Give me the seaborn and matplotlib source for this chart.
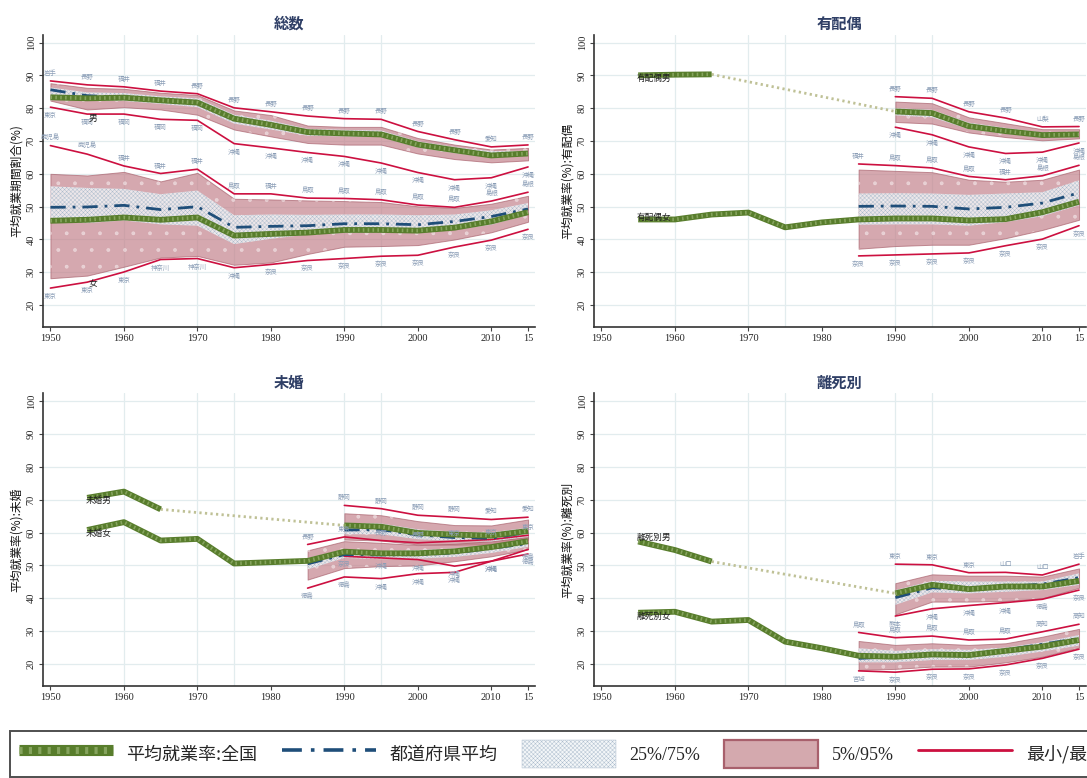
import matplotlib
matplotlib.use("Agg")
import matplotlib.pyplot as plt
from matplotlib.lines import Line2D
from matplotlib.patches import Patch
from matplotlib.legend_handler import HandlerTuple
import numpy as np
import pandas as pd
import seaborn as sns

# ---------------------------------------------------------------- data
YEARS = [1950, 1955, 1960, 1965, 1970, 1975, 1980, 1985, 1990, 1995, 2000, 2005, 2010, 2015]
N = None

# 総数
sosu_m = dict(
    nat=[83.3, 83.0, 83.2, 82.4, 81.7, 76.8, 74.9, 72.7, 72.3, 72.0, 68.9, 67.2, 65.6, 66.2],
    pref=[85.6, 83.8, 83.3, 82.5, 82.0, 76.9, 75.0, 72.8, 72.4, 72.1, 69.0, 67.2, 65.7, 66.3],
    max=[88.3, 87.1, 86.5, 85.2, 84.4, 80.1, 78.9, 77.6, 76.8, 76.6, 72.9, 70.4, 68.2, 68.8],
    p95=[87.6, 86.2, 85.9, 84.7, 84.0, 79.3, 77.9, 74.7, 74.3, 74.3, 70.9, 68.9, 67.4, 67.9],
    p75=[86.3, 84.8, 84.6, 83.6, 83.0, 78.0, 76.2, 73.7, 73.4, 73.2, 69.9, 68.2, 66.9, 67.0],
    p25=[83.8, 82.2, 82.2, 81.3, 80.3, 75.3, 73.5, 71.6, 71.4, 71.2, 68.0, 66.3, 65.0, 65.6],
    p5=[82.3, 79.6, 80.3, 79.6, 78.0, 73.5, 71.4, 69.4, 68.9, 68.9, 66.2, 64.5, 63.5, 64.1],
    min=[80.3, 78.2, 78.2, 76.6, 76.3, 69.2, 67.9, 66.5, 65.3, 63.3, 60.4, 58.2, 58.8, 62.1],
)
sosu_m_maxlab = ["岩手", "長野", "福井", "福井", "長野", "長野", "長野", "長野", "長野", "長野", "長野", "長野", "愛知", "長野"]
sosu_m_minlab = ["東京", "福岡", "福岡", "福岡", "福岡", "沖縄", "沖縄", "沖縄", "沖縄", "沖縄", "沖縄", "沖縄", "沖縄", "沖縄"]

sosu_f = dict(
    nat=[45.7, 46.0, 46.7, 46.0, 46.7, 41.2, 41.7, 42.1, 42.9, 42.9, 42.7, 43.6, 45.5, 48.3],
    pref=[49.8, 49.9, 50.4, 49.1, 50.0, 43.7, 44.0, 44.2, 44.8, 44.8, 44.5, 45.5, 47.0, 49.3],
    max=[68.6, 66.0, 62.4, 60.1, 61.4, 53.9, 53.9, 52.6, 52.5, 52.1, 50.5, 49.8, 51.7, 54.4],
    p95=[60.0, 59.5, 60.6, 57.7, 60.3, 52.4, 52.2, 51.9, 51.7, 51.4, 50.1, 49.6, 50.9, 53.3],
    p75=[56.2, 55.7, 55.4, 53.8, 54.9, 47.4, 47.6, 47.5, 47.6, 47.6, 47.4, 47.6, 48.9, 51.1],
    p25=[45.3, 45.0, 45.8, 44.6, 44.2, 38.6, 40.2, 41.5, 42.0, 42.2, 42.4, 42.9, 44.5, 47.6],
    p5=[28.2, 29.0, 31.7, 34.5, 35.0, 32.3, 33.0, 35.6, 37.8, 38.0, 38.3, 40.0, 42.2, 45.4],
    min=[25.2, 27.0, 30.1, 33.9, 34.2, 31.4, 32.4, 33.6, 34.2, 34.9, 35.2, 37.7, 39.8, 43.1],
)
sosu_f_maxlab = ["鹿児島", "鹿児島", "福井", "福井", "福井", "鳥取", "福井", "鳥取", "鳥取", "鳥取", "鳥取", "鳥取", "島根", "島根"]
sosu_f_minlab = ["東京", "東京", "東京", "神奈川", "神奈川", "沖縄", "奈良", "奈良", "奈良", "奈良", "奈良", "奈良", "奈良", "奈良"]

# 有配偶
yuhai_m = dict(
    nat=[N, 90.0, 90.2, 90.3, N, N, N, N, 79.0, 78.5, 74.5, 73.0, 71.8, 72.0],
    pref=[N, N, N, N, N, N, N, N, 78.8, 78.2, 74.3, 72.8, 71.6, 71.8],
    max=[N, N, N, N, N, N, N, N, 83.5, 83.0, 78.9, 77.0, 74.3, 74.4],
    p95=[N, N, N, N, N, N, N, N, 82.0, 81.5, 77.2, 75.4, 73.6, 73.6],
    p75=[N, N, N, N, N, N, N, N, 80.0, 79.5, 75.6, 74.0, 72.6, 72.8],
    p25=[N, N, N, N, N, N, N, N, 77.8, 77.2, 73.6, 72.2, 71.0, 71.2],
    p5=[N, N, N, N, N, N, N, N, 75.8, 75.3, 72.6, 71.2, 70.2, 70.8],
    min=[N, N, N, N, N, N, N, N, 74.2, 71.9, 68.2, 66.2, 66.6, 69.4],
)
yuhai_m_maxlab = [N] * 8 + ["長野", "長野", "長野", "長野", "山梨", "長野"]
yuhai_m_minlab = [N] * 8 + ["沖縄"] * 6

yuhai_f = dict(
    nat=[N, 46.1, 46.1, 47.6, 48.2, 43.7, 45.2, 46.1, 46.4, 46.4, 45.8, 46.2, 48.3, 51.5],
    pref=[N, N, N, N, N, N, N, 50.1, 50.2, 50.1, 49.3, 49.8, 51.1, 54.2],
    max=[N, N, N, N, N, N, N, 63.0, 62.5, 61.8, 59.2, 58.2, 59.4, 62.6],
    p95=[N, N, N, N, N, N, N, 61.3, 60.9, 60.5, 58.2, 57.6, 58.2, 61.3],
    p75=[N, N, N, N, N, N, N, 54.0, 54.1, 54.0, 53.6, 54.0, 54.4, 58.0],
    p25=[N, N, N, N, N, N, N, 44.5, 44.6, 44.6, 44.2, 45.3, 47.1, 50.4],
    p5=[N, N, N, N, N, N, N, 37.2, 38.0, 38.4, 38.4, 40.4, 42.9, 46.0],
    min=[N, N, N, N, N, N, N, 35.0, 35.3, 35.6, 35.9, 38.1, 40.1, 44.2],
)
yuhai_f_maxlab = [N] * 7 + ["福井", "鳥取", "鳥取", "鳥取", "福井", "島根", "島根"]
yuhai_f_minlab = [N] * 7 + ["奈良"] * 7

# 未婚
mikon_m = dict(
    nat=[N, 70.6, 72.5, 67.1, N, N, N, N, 62.2, 61.8, 59.9, 59.4, 59.1, 60.5],
    pref=[N, N, N, N, N, N, N, N, 60.8, 60.9, 59.3, 58.5, 58.3, 60.1],
    max=[N, N, N, N, N, N, N, N, 68.3, 67.3, 65.3, 64.7, 64.0, 64.7],
    p95=[N, N, N, N, N, N, N, N, 65.9, 65.3, 63.5, 62.3, 62.2, 64.0],
    p75=[N, N, N, N, N, N, N, N, 63.0, 62.8, 61.0, 60.3, 60.1, 61.5],
    p25=[N, N, N, N, N, N, N, N, 59.5, 59.5, 58.0, 57.5, 57.3, 58.8],
    p5=[N, N, N, N, N, N, N, N, 57.9, 57.6, 56.4, 56.3, 56.5, 57.8],
    min=[N, N, N, N, N, N, N, N, 52.8, 52.3, 51.8, 49.8, 51.3, 54.9],
)
mikon_m_maxlab = [N] * 8 + ["静岡", "静岡", "静岡", "静岡", "愛知", "愛知"]
mikon_m_minlab = [N] * 8 + ["奈良", "沖縄", "沖縄", "沖縄", "沖縄", "徳島"]

mikon_f = dict(
    nat=[N, 60.8, 63.2, 57.6, 58.1, 50.6, 51.0, 51.4, 54.2, 53.7, 53.7, 54.3, 55.6, 57.4],
    pref=[N, N, N, N, N, N, N, 50.5, 53.3, 53.2, 53.3, 53.8, 55.2, 56.7],
    max=[N, N, N, N, N, N, N, 56.4, 58.7, 57.6, 56.9, 57.4, 57.9, 59.2],
    p95=[N, N, N, N, N, N, N, 54.6, 57.4, 56.9, 56.2, 56.6, 57.4, 58.6],
    p75=[N, N, N, N, N, N, N, 52.3, 54.9, 54.5, 54.7, 55.2, 56.2, 57.7],
    p25=[N, N, N, N, N, N, N, 48.8, 52.3, 51.9, 52.1, 52.6, 53.8, 55.7],
    p5=[N, N, N, N, N, N, N, 45.7, 49.2, 49.8, 50.0, 51.3, 52.8, 54.9],
    min=[N, N, N, N, N, N, N, 43.1, 46.5, 46.0, 47.5, 47.9, 51.3, 53.5],
)
mikon_f_maxlab = [N] * 7 + ["長野", "東京", "長野", "長野", "東京", "東京", "東京"]
mikon_f_minlab = [N] * 7 + ["徳島", "徳島", "沖縄", "沖縄", "沖縄", "沖縄", "徳島"]

# 離死別
rishi_m = dict(
    nat=[N, 57.3, 54.7, 51.2, N, N, N, N, 41.5, 44.1, 42.8, 43.6, 43.6, 45.3],
    pref=[N, N, N, N, N, N, N, N, 40.2, 43.2, 42.7, 43.6, 44.3, 46.3],
    max=[N, N, N, N, N, N, N, N, 50.4, 50.2, 47.8, 47.9, 47.1, 50.4],
    p95=[N, N, N, N, N, N, N, N, 44.6, 47.3, 46.9, 46.9, 46.6, 49.1],
    p75=[N, N, N, N, N, N, N, N, 42.5, 45.3, 45.1, 45.1, 45.1, 47.6],
    p25=[N, N, N, N, N, N, N, N, 38.0, 41.8, 41.5, 42.0, 42.5, 44.1],
    p5=[N, N, N, N, N, N, N, N, 35.1, 39.0, 39.0, 39.2, 40.0, 43.2],
    min=[N, N, N, N, N, N, N, N, 34.6, 36.8, 37.8, 38.7, 39.7, 42.5],
)
rishi_m_maxlab = [N] * 8 + ["東京", "東京", "東京", "山口", "山口", "岩手"]
rishi_m_minlab = [N] * 8 + ["熊本", "沖縄", "沖縄", "沖縄", "徳島", "奈良"]

rishi_f = dict(
    nat=[N, 35.6, 35.9, 32.9, 33.4, 26.8, 24.8, 22.5, 22.2, 22.9, 22.7, 24.0, 25.3, 27.3],
    pref=[N, N, N, N, N, N, N, 21.7, 22.2, 23.2, 22.9, 24.3, 26.0, 27.8],
    max=[N, N, N, N, N, N, N, 29.6, 28.0, 28.5, 27.3, 27.6, 29.8, 32.1],
    p95=[N, N, N, N, N, N, N, 27.0, 25.8, 26.3, 25.8, 26.3, 28.3, 30.7],
    p75=[N, N, N, N, N, N, N, 24.8, 24.0, 24.5, 24.3, 25.0, 26.6, 28.8],
    p25=[N, N, N, N, N, N, N, 20.5, 20.5, 21.2, 21.2, 22.2, 23.8, 25.6],
    p5=[N, N, N, N, N, N, N, 18.2, 18.5, 19.2, 19.2, 20.5, 22.2, 25.0],
    min=[N, N, N, N, N, N, N, 17.9, 17.5, 18.4, 18.5, 19.7, 21.7, 24.5],
)
rishi_f_maxlab = [N] * 7 + ["鳥取", "鳥取", "鳥取", "鳥取", "鳥取", "高知", "高知"]
rishi_f_minlab = [N] * 7 + ["宮城", "奈良", "奈良", "奈良", "奈良", "奈良", "奈良"]

PANEL_TITLES = ["総数", "有配偶", "未婚", "離死別"]
Y_LABELS = ["平均就業期間割合(%)", "平均就業率(%):有配偶", "平均就業率(%):未婚", "平均就業率(%):離死別"]
# series name tags: (text, x, y)
SERIES_TAGS = [
    [("男", 1955.2, 77.0), ("女", 1955.2, 26.6)],
    [("有配偶男", 1954.8, 89.0), ("有配偶女", 1954.8, 46.8)],
    [("未婚男", 1954.8, 69.8), ("未婚女", 1954.8, 59.7)],
    [("離死別男", 1954.8, 58.4), ("離死別女", 1954.8, 34.4)],
]
X_TICKS = [1950, 1960, 1970, 1980, 1990, 2000, 2010, 2015]
X_TICK_LABELS = ["1950", "1960", "1970", "1980", "1990", "2000", "2010", "15"]
Y_TICKS = [20, 30, 40, 50, 60, 70, 80, 90, 100]
V_GRID = [1960, 1970, 1975, 1990, 1995]
LEGEND_LABELS = ["平均就業率:全国", "都道府県平均", "25%/75%", "5%/95%", "最小/最大"]

# ---------------------------------------------------------------- style
sns.set_theme(style="white")
plt.rcParams["font.family"] = ["Noto Sans CJK JP", "DejaVu Sans"]
plt.rcParams["hatch.linewidth"] = 0.3
SERIF = "Liberation Serif"

GREEN_DARK = "#587d2c"
GREEN_LIGHT = "#86a45e"
GAP_COLOR = "#bfc196"
NAVY = "#1f4e79"
RED = "#cc1040"
PINK = "#c27f89"
PINK_EDGE = "#a8606c"
DOT_FACE = "#f3f6f8"
DOT_HATCH = "#a9bacb"
GRID = "#e2ecee"
TITLE_COL = "#2f3f66"
LAB_COL = "#8a9db6"
DASHDOT = (0, (5.5, 2.5, 1, 2.5))


def arr(v):
    return np.array([np.nan if x is None else x for x in v], dtype=float)


def draw_group(ax, g, maxlab, minlab):
    yrs = np.array(YEARS, dtype=float)
    p5, p95, p25, p75 = arr(g["p5"]), arr(g["p95"]), arr(g["p25"]), arr(g["p75"])
    ok = ~np.isnan(p5)
    # 5%/95% band
    ax.fill_between(yrs[ok], p5[ok], p95[ok], facecolor=PINK, alpha=0.68,
                    edgecolor=PINK_EDGE, linewidth=0.7, zorder=1)
    ax.fill_between(yrs[ok], p5[ok], p95[ok], facecolor="none", hatch=".",
                    edgecolor=(1, 1, 1, 0.45), linewidth=0, zorder=1.1)
    # 25%/75% band
    ax.fill_between(yrs[ok], p25[ok], p75[ok], facecolor=DOT_FACE, alpha=0.8,
                    edgecolor="none", linewidth=0, zorder=2)
    ax.fill_between(yrs[ok], p25[ok], p75[ok], facecolor="none", hatch="xxxxxxxx",
                    edgecolor=DOT_HATCH, linewidth=0, zorder=2.1)

    # min / max
    df = pd.DataFrame({"year": YEARS, "max": arr(g["max"]), "min": arr(g["min"]),
                       "pref": arr(g["pref"])})
    for col in ("max", "min"):
        d = df.dropna(subset=[col])
        sns.lineplot(data=d, x="year", y=col, ax=ax, color=RED, lw=1.2,
                     estimator=None, sort=False, zorder=3)
    d = df.dropna(subset=["pref"])
    sns.lineplot(data=d, x="year", y="pref", ax=ax, color=NAVY, lw=2.0,
                 linestyle=DASHDOT, estimator=None, sort=False, zorder=4)

    # national average: solid runs, dotted across missing years
    nat = arr(g["nat"])
    idx = np.where(~np.isnan(nat))[0]
    runs, cur = [], [idx[0]]
    for i in idx[1:]:
        if i == cur[-1] + 1:
            cur.append(i)
        else:
            runs.append(cur)
            cur = [i]
    runs.append(cur)
    for a, b in zip(runs[:-1], runs[1:]):
        ax.plot([yrs[a[-1]], yrs[b[0]]], [nat[a[-1]], nat[b[0]]], color=GAP_COLOR,
                lw=2.0, linestyle=(0, (0.8, 1.2)), zorder=4.5)
    for r in runs:
        ax.plot(yrs[r], nat[r], color=GREEN_DARK, lw=4.2, zorder=5,
                solid_capstyle="butt", solid_joinstyle="round")
        ax.plot(yrs[r], nat[r], color=GREEN_LIGHT, lw=2.6, zorder=5.1,
                linestyle=(0, (0.45, 0.9)))

    # prefecture names at extremes
    mx, mn = arr(g["max"]), arr(g["min"])
    for i, y in enumerate(YEARS):
        if maxlab[i] is not None and not np.isnan(mx[i]):
            ax.text(y, mx[i] + 1.2, maxlab[i], ha="center", va="bottom",
                    fontsize=4.6, color=LAB_COL, zorder=6)
        if minlab[i] is not None and not np.isnan(mn[i]):
            ax.text(y, mn[i] - 1.2, minlab[i], ha="center", va="top",
                    fontsize=4.6, color=LAB_COL, zorder=6)


fig = plt.figure(figsize=(10.87, 7.78), dpi=100)
W, H = 0.4529, 0.376
rects = [
    [0.0393, 0.5795, W, H],
    [0.5462, 0.5795, W, H],
    [0.0393, 0.1183, W, H],
    [0.5462, 0.1183, W, H],
]
groups = [
    [(sosu_m, sosu_m_maxlab, sosu_m_minlab), (sosu_f, sosu_f_maxlab, sosu_f_minlab)],
    [(yuhai_m, yuhai_m_maxlab, yuhai_m_minlab), (yuhai_f, yuhai_f_maxlab, yuhai_f_minlab)],
    [(mikon_m, mikon_m_maxlab, mikon_m_minlab), (mikon_f, mikon_f_maxlab, mikon_f_minlab)],
    [(rishi_m, rishi_m_maxlab, rishi_m_minlab), (rishi_f, rishi_f_maxlab, rishi_f_minlab)],
]

for k in range(4):
    ax = fig.add_axes(rects[k])
    ax.set_xlim(1948.95, 2015.95)
    ax.set_ylim(13.3, 102.4)
    for yv in Y_TICKS:
        ax.axhline(yv, color=GRID, lw=0.9, zorder=0)
    for xv in V_GRID:
        ax.axvline(xv, color=GRID, lw=0.9, zorder=0)
    for g, mxl, mnl in groups[k]:
        draw_group(ax, g, mxl, mnl)
    for txt, x, y in SERIES_TAGS[k]:
        ax.text(x, y, txt, ha="left", va="center", fontsize=6.2, color="#222222", zorder=7)

    ax.set_xticks(X_TICKS)
    ax.set_xticklabels(X_TICK_LABELS, fontfamily=SERIF, fontsize=7.5)
    ax.set_yticks(Y_TICKS)
    ax.set_yticklabels([str(v) for v in Y_TICKS], fontfamily=SERIF, fontsize=7.5,
                       rotation=90, va="center")
    ax.tick_params(axis="both", direction="out", length=3, width=0.8, color="#444444",
                   pad=2, bottom=True, left=True)
    for s in ("top", "right"):
        ax.spines[s].set_visible(False)
    for s in ("left", "bottom"):
        ax.spines[s].set_color("#333333")
        ax.spines[s].set_linewidth(1.2)
    ax.set_xlabel("")
    ax.set_ylabel(Y_LABELS[k], fontsize=8.5, labelpad=3, color="#111111")
    ax.set_title(PANEL_TITLES[k], fontsize=11, fontweight="bold", color=TITLE_COL, pad=4)

# legend
h_nat = (Line2D([], [], color=GREEN_DARK, lw=8, solid_capstyle="butt"),
         Line2D([], [], color=GREEN_LIGHT, lw=5, linestyle=(0, (0.45, 0.9))))
h_pref = Line2D([], [], color=NAVY, lw=2.6, linestyle=DASHDOT)
h_iqr = Patch(facecolor=DOT_FACE, edgecolor=DOT_HATCH, hatch="xxxxxxxx", linewidth=0.3)
h_band = Patch(facecolor="#d4a9ae", edgecolor=PINK_EDGE, linewidth=1.6)
h_rng = Line2D([], [], color=RED, lw=2)
leg = fig.legend([h_nat, h_pref, h_iqr, h_band, h_rng], LEGEND_LABELS,
                 handler_map={tuple: HandlerTuple(ndivide=1, pad=0)},
                 loc="upper left", bbox_to_anchor=(0.0092, 0.0604), borderaxespad=0,
                 ncol=5, fontsize=13, handlelength=5.2, handleheight=2.0,
                 handletextpad=0.75, columnspacing=1.35, borderpad=0.5,
                 frameon=True, fancybox=False)
leg.get_frame().set_edgecolor("#222222")
leg.get_frame().set_linewidth(1.4)
for t in leg.get_texts():
    if t.get_text()[0].isdigit():
        t.set_fontfamily(SERIF)

fig.savefig("out.png", dpi=100)
